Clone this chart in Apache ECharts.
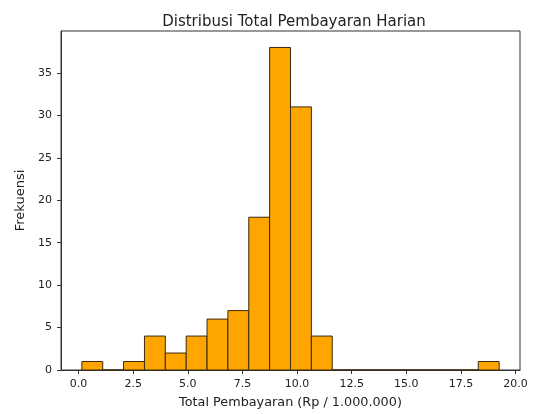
<!DOCTYPE html>
<html>
<head>
<meta charset="utf-8">
<script src="https://cdn.jsdelivr.net/npm/echarts@6/dist/echarts.min.js"></script>
<style>html,body{margin:0;padding:0;background:#fff;}#c{width:538px;height:414px;}</style>
</head>
<body>
<div id="c"></div>
<script>
// Histogram bin edges (Rp / 1.000.000)
const binEdges = [0.15, 1.105, 2.06, 3.015, 3.97, 4.925, 5.88, 6.835, 7.79, 8.745, 9.7,
                  10.655, 11.61, 12.565, 13.52, 14.475, 15.43, 16.385, 17.34, 18.295, 19.25];
// Frequencies per bin
const counts = [1, 0, 1, 4, 2, 4, 6, 7, 18, 38, 31, 4, 0, 0, 0, 0, 0, 0, 0, 1];
const xTicks = [0, 2.5, 5, 7.5, 10, 12.5, 15, 17.5, 20];
const yTicks = [0, 5, 10, 15, 20, 25, 30, 35];
const titleText = 'Distribusi Total Pembayaran Harian';
const xName = 'Total Pembayaran (Rp / 1.000.000)';
const yName = 'Frekuensi';

const data = counts.map((c, i) => [binEdges[i], binEdges[i + 1], c]);
const font = 'DejaVu Sans';
const txt = '#222';
const chart = echarts.init(document.getElementById('c'), null, {renderer: 'canvas'});
chart.setOption({
  animation: false,
  backgroundColor: '#fff',
  title: {
    text: titleText, left: 289, textAlign: 'center', top: 10,
    textStyle: {fontFamily: font, fontSize: 15, fontWeight: 'normal', color: txt}
  },
  grid: {left: 61, right: 18, top: 31, bottom: 41, show: true, borderColor: '#333', borderWidth: 1, containLabel: false},
  xAxis: {
    type: 'value', min: -0.805, max: 20.205,
    name: xName, nameLocation: 'middle', nameGap: 26,
    nameTextStyle: {fontFamily: font, fontSize: 12.8, color: txt},
    axisLine: {show: true, onZero: false, lineStyle: {color: '#333', width: 1}},
    axisTick: {show: true, customValues: xTicks, length: 4, lineStyle: {color: '#333'}},
    axisLabel: {customValues: xTicks, fontFamily: font, fontSize: 11, color: txt, margin: 9,
      formatter: v => v.toFixed(1)},
    splitLine: {show: false}
  },
  yAxis: {
    type: 'value', min: 0, max: 39.94,
    name: yName, nameLocation: 'middle', nameGap: 31,
    nameTextStyle: {fontFamily: font, fontSize: 13, color: txt},
    axisLine: {show: true, onZero: false, lineStyle: {color: '#333', width: 1}},
    axisTick: {show: true, customValues: yTicks, length: 4, lineStyle: {color: '#333'}},
    axisLabel: {customValues: yTicks, fontFamily: font, fontSize: 11, color: txt, margin: 9},
    splitLine: {show: false}
  },
  series: [{
    type: 'custom',
    data: data,
    encode: {x: [0, 1], y: 2},
    renderItem: function (params, api) {
      const x0 = api.value(0), x1 = api.value(1), h = api.value(2);
      const p0 = api.coord([x0, h]);
      const p1 = api.coord([x1, 0]);
      return {
        type: 'rect',
        shape: {x: p0[0], y: p0[1], width: p1[0] - p0[0], height: p1[1] - p0[1]},
        style: {fill: '#FFA500', stroke: '#3a2a10', lineWidth: 1}
      };
    }
  }]
});
</script>
</body>
</html>
